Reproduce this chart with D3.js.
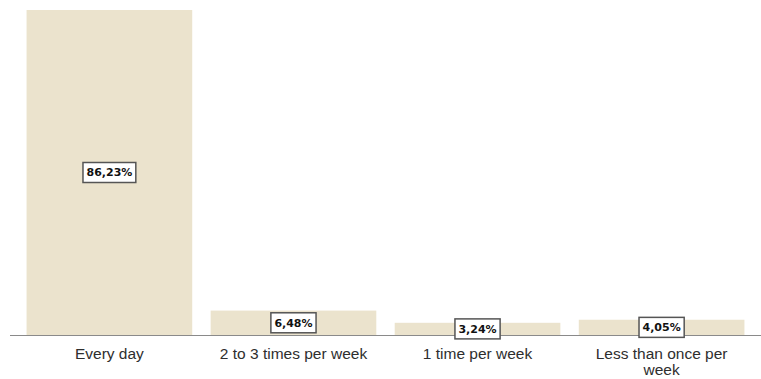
<!DOCTYPE html>
<html>
<head>
<meta charset="utf-8">
<script src="https://cdn.jsdelivr.net/npm/d3@7"></script>
<style>
  html, body { margin: 0; padding: 0; background: #fff; }
  svg { display: block; }
</style>
</head>
<body>
<svg id="chart" width="761" height="379"></svg>
<script>
// Frequency categories and their shares (percent)
const categories = ["Every day", "2 to 3 times per week", "1 time per week", "Less than once per week"];
const shares = [86.23, 6.48, 3.24, 4.05];
const valueLabels = ["86,23%", "6,48%", "3,24%", "4,05%"];

const svg = d3.select("#chart");
const baseY = 335, topY = 10;

const x = d3.scaleBand()
  .domain(categories)
  .range([10, 761])
  .paddingInner(0.1)
  .paddingOuter(0.09);

const y = d3.scaleLinear()
  .domain([0, d3.max(shares)])
  .range([baseY, topY]);

const data = categories.map((c, i) => ({ cat: c, v: shares[i], label: valueLabels[i] }));

// Bars
svg.append("g").selectAll("rect")
  .data(data)
  .join("rect")
  .attr("x", d => x(d.cat))
  .attr("y", d => y(d.v))
  .attr("width", x.bandwidth())
  .attr("height", d => baseY - y(d.v))
  .attr("fill", "#ebe3cd");

// Category axis
const axis = svg.append("g")
  .attr("transform", `translate(0,${baseY})`)
  .call(d3.axisBottom(x).tickSize(0).tickPadding(0));
axis.select(".domain").attr("stroke", "#8a8a8a").attr("d", "M10,0.5H761");
axis.selectAll("text")
  .attr("font-family", "Liberation Sans, Arial, sans-serif")
  .attr("font-size", 15.5)
  .attr("fill", "#2e2e2e")
  .attr("y", 24)
  .attr("dy", 0)
  .call(wrap, x.bandwidth());

function wrap(texts, w) {
  texts.each(function () {
    const t = d3.select(this);
    const words = t.text().split(/\s+/);
    const yy = +t.attr("y");
    t.text(null);
    let line = [];
    let tspan = t.append("tspan").attr("x", 0).attr("y", yy);
    let n = 0;
    for (const word of words) {
      line.push(word);
      tspan.text(line.join(" "));
      if (tspan.node().getComputedTextLength() > w && line.length > 1) {
        line.pop();
        tspan.text(line.join(" "));
        line = [word];
        n++;
        tspan = t.append("tspan").attr("x", 0).attr("y", yy + n * 15.5).text(word);
      }
    }
  });
}

// Value labels in boxes at bar middles
const lab = svg.append("g").selectAll("g")
  .data(data)
  .join("g")
  .attr("transform", d => `translate(${x(d.cat) + x.bandwidth() / 2},${(y(d.v) + baseY) / 2})`);

lab.append("text")
  .attr("text-anchor", "middle")
  .attr("dy", "0.36em")
  .attr("font-family", "DejaVu Sans, Verdana, sans-serif")
  .attr("font-weight", "bold")
  .attr("font-size", 11)
  .attr("fill", "#111")
  .text(d => d.label);

lab.each(function () {
  const g = d3.select(this);
  const b = g.select("text").node().getBBox();
  g.insert("rect", "text")
    .attr("x", b.x - 3.5)
    .attr("y", -10)
    .attr("width", b.width + 7)
    .attr("height", 20)
    .attr("fill", "#fff")
    .attr("stroke", "#555")
    .attr("stroke-width", 1.5);
});
</script>
</body>
</html>
